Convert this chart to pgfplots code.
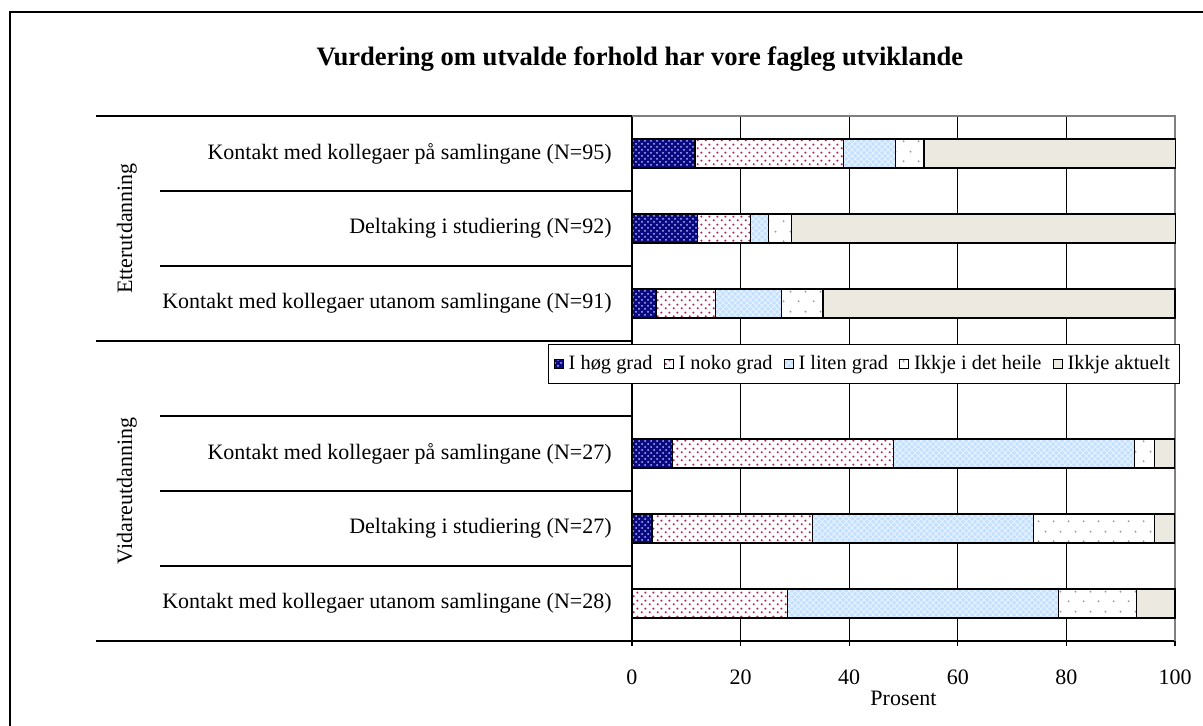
\documentclass[border=0pt]{standalone}
\usepackage{fontspec}
\setmainfont{Liberation Serif}
\usepackage{pgfplots}
\pgfplotsset{compat=1.18}
\usetikzlibrary{patterns}

\pgfdeclarepatternformonly{pinkdots}{\pgfqpoint{0pt}{0pt}}{\pgfqpoint{4pt}{4pt}}{\pgfqpoint{4pt}{4pt}}{%
  \pgfpathcircle{\pgfqpoint{1pt}{1pt}}{0.65pt}%
  \pgfpathcircle{\pgfqpoint{3pt}{3pt}}{0.65pt}%
  \pgfusepath{fill}}
\pgfdeclarepatternformonly{sparsedots}{\pgfqpoint{0pt}{0pt}}{\pgfqpoint{7.5pt}{10pt}}{\pgfqpoint{7.5pt}{10pt}}{%
  \pgfpathcircle{\pgfqpoint{1.9pt}{2.5pt}}{0.55pt}%
  \pgfpathcircle{\pgfqpoint{5.6pt}{7.5pt}}{0.55pt}%
  \pgfusepath{fill}}

\definecolor{navyc}{RGB}{10,10,128}
\definecolor{pinkc}{RGB}{165,45,100}
\definecolor{lblue}{RGB}{196,224,255}
\definecolor{beige}{RGB}{236,234,224}

\begin{document}
\begin{tikzpicture}
\useasboundingbox (-316pt,-42.5pt) rectangle (285.5pt,320.5pt);
\draw[line width=0.9pt] (-311pt,-80pt) -- (-311pt,314.5pt) -- (330pt,314.5pt);
\node[font=\bfseries\fontsize{13.3}{16}\selectfont] at (4pt,291pt) {Vurdering om utvalde forhold har vore fagleg utviklande};
\begin{axis}[
  scale only axis, width=271.5pt, height=262.5pt,
  xbar stacked, bar width=0.39,
  y dir=reverse,
  ymin=-0.5, ymax=6.5,
  xmin=0, xmax=100,
  xtick={0,20,...,100},
  ytick={0,...,6},
  yticklabels={Kontakt med kollegaer på samlingane (N=95),Deltaking i studiering (N=92),Kontakt med kollegaer utanom samlingane (N=91),{},Kontakt med kollegaer på samlingane (N=27),Deltaking i studiering (N=27),Kontakt med kollegaer utanom samlingane (N=28)},
  y tick style={draw=none},
  axis x line*=bottom, axis y line*=left,
  axis line style={line width=1pt, black},
  xmajorgrids, major grid style={black, line width=0.65pt},
  xtick align=outside, major tick length=2.5pt,
  x tick style={black, line width=0.65pt},
  /pgf/number format/assume math mode=true,
  ticklabel style={font=\fontsize{11}{13}\selectfont},
  xticklabel style={yshift=-8.5pt},
  yticklabel style={anchor=east, inner sep=0pt, xshift=-10pt},
  xlabel={Prosent},
  xlabel style={at={(axis description cs:0.5,0)}, anchor=center, yshift=-28.5pt, font=\fontsize{11}{13}\selectfont},
  clip=false,
  legend columns=5,
  legend style={at={(0.427,0.528)}, anchor=center, draw=black, fill=white, line width=0.5pt,
    font=\fontsize{10.2}{12}\selectfont, inner xsep=2.5pt, inner ysep=3.5pt,
    /tikz/every odd column/.append style={column sep=0.5pt},
    /tikz/every even column/.append style={column sep=3.5pt}},
  legend image code/.code={\draw[#1, line width=0.4pt] (0pt,-2.3pt) rectangle (4.6pt,2.3pt);},
  every axis plot/.append style={draw=black, line width=0.65pt},
]
\addplot[fill=navyc, postaction={pattern=crosshatch dots, pattern color=white!70!blue}] coordinates {(11.6,0) (12.0,1) (4.4,2) (0,3) (7.4,4) (3.7,5) (0,6)};
\addplot[fill=white, postaction={pattern=pinkdots, pattern color=pinkc}] coordinates {(27.4,0) (9.8,1) (11.0,2) (0,3) (40.7,4) (29.6,5) (28.6,6)};
\addplot[fill=lblue, postaction={pattern=crosshatch, pattern color=white!60!lblue}] coordinates {(9.5,0) (3.3,1) (12.1,2) (0,3) (44.4,4) (40.7,5) (50.0,6)};
\addplot[fill=white, postaction={pattern=sparsedots, pattern color=gray!80}] coordinates {(5.3,0) (4.3,1) (7.7,2) (0,3) (3.7,4) (22.2,5) (14.3,6)};
\addplot[fill=beige] coordinates {(46.3,0) (70.7,1) (64.8,2) (0,3) (3.7,4) (3.7,5) (7.1,6)};
\legend{I høg grad,I noko grad,I liten grad,Ikkje i det heile,Ikkje aktuelt}
\draw[gray, line width=0.65pt] (rel axis cs:0,1) -- (rel axis cs:1,1) -- (rel axis cs:1,0);
\draw[line width=0.9pt] (axis cs:0,0.5) -- ++(-236pt,0pt);
\draw[line width=0.9pt] (axis cs:0,1.5) -- ++(-236pt,0pt);
\draw[line width=0.9pt] (axis cs:0,3.5) -- ++(-236pt,0pt);
\draw[line width=0.9pt] (axis cs:0,4.5) -- ++(-236pt,0pt);
\draw[line width=0.9pt] (axis cs:0,5.5) -- ++(-236pt,0pt);
\draw[line width=0.9pt] (axis cs:0,-0.5) -- ++(-268pt,0pt);
\draw[line width=0.9pt] (axis cs:0,2.5) -- ++(-268pt,0pt);
\draw[line width=0.9pt] (axis cs:0,6.5) -- ++(-268pt,0pt);
\path (axis cs:0,1) ++(-252.5pt,0pt) node[rotate=90, font=\fontsize{11}{13}\selectfont] {Etterutdanning};
\path (axis cs:0,4.5) ++(-252.5pt,0pt) node[rotate=90, font=\fontsize{11}{13}\selectfont] {Vidareutdanning};
\end{axis}
\end{tikzpicture}
\end{document}
